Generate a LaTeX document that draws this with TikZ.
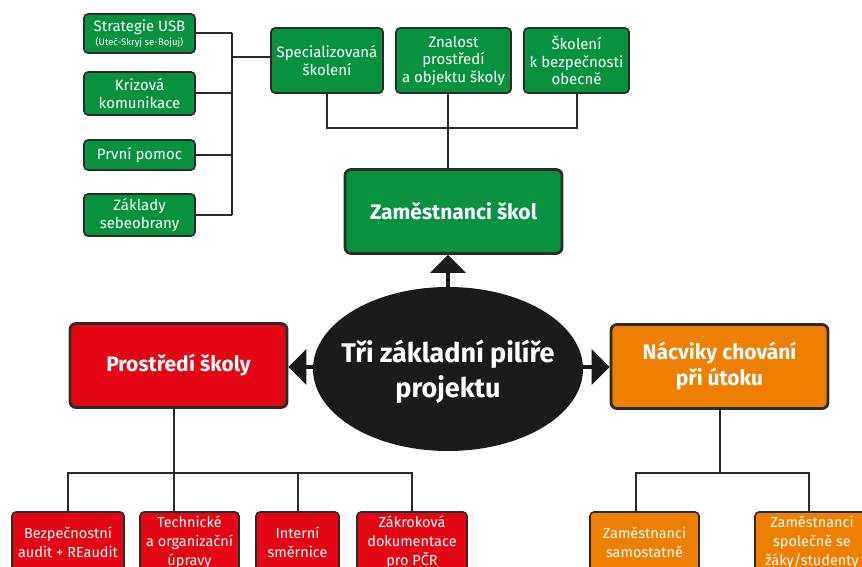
\documentclass[tikz,border=0pt]{standalone}
\usepackage{fontspec}
\setmainfont{Fira Sans}
\usetikzlibrary{arrows.meta,shapes.geometric}
\definecolor{zel}{HTML}{08913F}
\definecolor{cerv}{HTML}{E30613}
\definecolor{oran}{HTML}{EE7F00}
\definecolor{edge}{HTML}{2B2B2B}
\definecolor{elcol}{HTML}{1B1B1B}
\begin{document}
\begin{tikzpicture}[x=1pt,y=-1pt,
  box/.style={draw=edge, rounded corners=4pt, line width=1.6pt, text=white, align=center, inner sep=0pt},
  gbox/.style={box, fill=zel, font=\fontsize{15}{17.5}\selectfont},
  bigbox/.style={box, line width=2.8pt, rounded corners=6pt, minimum width=217pt, minimum height=84pt, font=\bfseries\fontsize{21}{26}\selectfont},
  rbox/.style={box, fill=cerv, minimum height=60pt, font=\fontsize{14.5}{19}\selectfont},
  obox/.style={box, fill=oran, minimum height=60pt, font=\fontsize{14.5}{19}\selectfont},
  conn/.style={draw=edge, line width=2pt},
  bigarrow/.style={draw=elcol, line width=4pt, -{Triangle[width=35pt,length=18pt]}}
]
\useasboundingbox (0,0) rectangle (862,567);
\clip (0,0) rectangle (862,567);
\fill[white] (0,0) rectangle (862,567);

% left green column
\node[gbox, minimum width=111pt, minimum height=39pt] (strat) at (139.5,33.5)
  {Strategie USB\\[-3.5pt]{\fontsize{9.5}{10}\selectfont (Uteč-Skryj se-Bojuj)}};
\node[gbox, minimum width=111pt, minimum height=43pt] (kriz) at (139.5,93.5) {Krizová\\komunikace};
\node[gbox, minimum width=111pt, minimum height=30pt] (prvni) at (139.5,155) {První pomoc};
\node[gbox, minimum width=111pt, minimum height=42pt] (zakl) at (139.5,215) {Základy\\sebeobrany};

% top green row
\node[gbox, minimum width=112pt, minimum height=65pt] (spec) at (327,60.5) {Specializovaná\\školení};
\node[gbox, minimum width=115pt, minimum height=65pt] (znal) at (453.5,60.5) {Znalost\\prostředí\\a objektu školy};
\node[gbox, minimum width=105pt, minimum height=65pt] (skol) at (576.5,60.5) {Školení\\k bezpečnosti\\obecně};

% main boxes
\node[bigbox, fill=zel] (zam) at (453.5,211.5) {Zaměstnanci škol};
\node[bigbox, fill=cerv] (prost) at (178.5,365.5) {Prostředí školy};
\node[bigbox, fill=oran] (nacv) at (719.5,366.5) {Nácviky chování\\při útoku};

% ellipse
\node[ellipse, fill=elcol, minimum width=270pt, minimum height=164pt, inner sep=0pt] (ell) at (448,369) {};
\node[text=white, align=center, inner sep=0pt, font=\bfseries\fontsize{27}{35}\selectfont] (elltext) at (448,372)
  {Tři základní pilíře\\projektu};

% bottom red
\node[rbox, minimum width=112pt] (bez) at (68,542) {Bezpečnostní\\audit + REaudit};
\node[rbox, minimum width=99pt] (tech) at (189.5,542) {Technické\\a organizační\\úpravy};
\node[rbox, minimum width=83pt] (int) at (297.5,542) {Interní\\směrnice};
\node[rbox, minimum width=110pt] (zakr) at (412,542) {Zákroková\\dokumentace\\pro PČR};

% bottom orange
\node[obox, minimum width=109pt] (samo) at (644.5,542) {Zaměstnanci\\samostatně};
\node[obox, minimum width=114pt] (spol) at (812,542) {Zaměstnanci\\společně se\\žáky/studenty};

% left bracket
\coordinate (br) at (232,0);
\coordinate (jl) at (232,57);
\draw[conn] (strat.east) -- (strat.east -| br);
\draw[conn] (kriz.east) -- (kriz.east -| br);
\draw[conn] (prvni.east) -- (prvni.east -| br);
\draw[conn] (zakl.east) -- (zakl.east -| br);
\draw[conn] (strat.east -| br) -- (zakl.east -| br);
\draw[conn] (jl) -- (jl -| spec.west);

% top connectors
\coordinate (jt) at (0,128);
\coordinate (vx) at (448,0);
\draw[conn] (spec.south) -- (spec.south |- jt) -- (skol.south |- jt) -- (skol.south);
\draw[conn] (vx |- znal.south) -- (vx |- zam.north);

% arrows from ellipse
\draw[bigarrow] (ell.north) -- (ell.north |- zam.south);
\coordinate (ay) at (0,367);
\draw[bigarrow] (ay -| ell.west) ++(2,0) -- (ay -| prost.east);
\draw[bigarrow] (ay -| ell.east) ++(-2,0) -- (ay -| nacv.west);

% red tree
\coordinate (jr) at (0,473);
\coordinate (px) at (174,0);
\draw[conn] (px |- prost.south) -- (px |- tech.north);
\draw[conn] (bez.north) -- (bez.north |- jr) -- (zakr.north |- jr) -- (zakr.north);
\draw[conn] (int.north) -- (int.north |- jr);

% orange tree
\coordinate (ox1) at (636,0);
\coordinate (ox2) at (809,0);
\draw[conn] (nacv.south) -- (nacv.south |- jr);
\draw[conn] (ox1 |- samo.north) -- (ox1 |- jr) -- (ox2 |- jr) -- (ox2 |- spol.north);
\end{tikzpicture}
\end{document}
